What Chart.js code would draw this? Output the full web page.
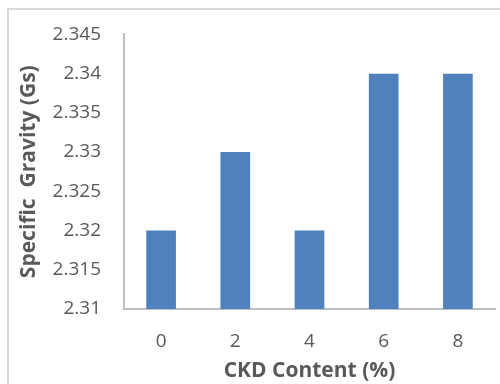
<!DOCTYPE html>
<html>
<head>
<meta charset="utf-8">
<script src="https://cdn.jsdelivr.net/npm/chart.js@4"></script>
<style>
  html, body { margin: 0; padding: 0; background: #ffffff; }
  #wrap { width: 500px; height: 384px; position: relative; }
</style>
</head>
<body>
<div id="wrap"><canvas id="chart" width="500" height="384"></canvas></div>
<script>
// CKD content (%) and measured specific gravity
const ckdContent = ['0', '2', '4', '6', '8'];
const specificGravity = [2.32, 2.33, 2.32, 2.34, 2.34];
const yTicks = [2.31, 2.315, 2.32, 2.325, 2.33, 2.335, 2.34, 2.345];

const FONT = "'Open Sans', 'Liberation Sans', sans-serif";

// light outer frame around the chart
const framePlugin = {
  id: 'frame',
  beforeDraw(chart) {
    const ctx = chart.ctx;
    ctx.save();
    ctx.fillStyle = '#ffffff';
    ctx.fillRect(0, 0, chart.width, chart.height);
    ctx.strokeStyle = '#d9d9d9';
    ctx.lineWidth = 2;
    ctx.strokeRect(8, 9, chart.width + 20, chart.height + 20);
    ctx.restore();
  }
};

new Chart(document.getElementById('chart'), {
  type: 'bar',
  data: {
    labels: ckdContent,
    datasets: [{
      data: specificGravity,
      backgroundColor: '#4f81bd',
      borderWidth: 0,
      categoryPercentage: 1,
      barPercentage: 0.4
    }]
  },
  options: {
    responsive: false,
    animation: false,
    events: [],
    layout: { padding: { top: 29, right: 5, bottom: 0, left: 8 } },
    plugins: { legend: { display: false }, tooltip: { enabled: false } },
    scales: {
      x: {
        grid: { display: false, drawTicks: false },
        border: { display: true, color: '#bfbfbf', width: 2 },
        ticks: { color: '#595959', font: { family: FONT, size: 19 }, padding: 21, maxRotation: 0 },
        title: {
          display: true, text: 'CKD Content (%)', color: '#595959',
          font: { family: FONT, size: 21, weight: 'bold' }, padding: { top: 3, bottom: 0 }
        },
        afterFit(scale) { scale.height = 75; }
      },
      y: {
        min: 2.31, max: 2.345,
        grid: { display: false, drawTicks: false },
        border: { display: true, color: '#bfbfbf', width: 2 },
        afterBuildTicks(scale) { scale.ticks = yTicks.map(v => ({ value: v })); },
        ticks: {
          color: '#595959', font: { family: FONT, size: 19 }, padding: 23,
          callback: v => String(parseFloat(v.toFixed(3)))
        },
        title: {
          display: true, text: 'Specific  Gravity (Gs)', color: '#595959',
          font: { family: FONT, size: 21, weight: 'bold' }, padding: { top: 8, bottom: 0 }
        },
        afterFit(scale) { scale.width = 116; }
      }
    }
  },
  plugins: [framePlugin]
});
</script>
</body>
</html>
